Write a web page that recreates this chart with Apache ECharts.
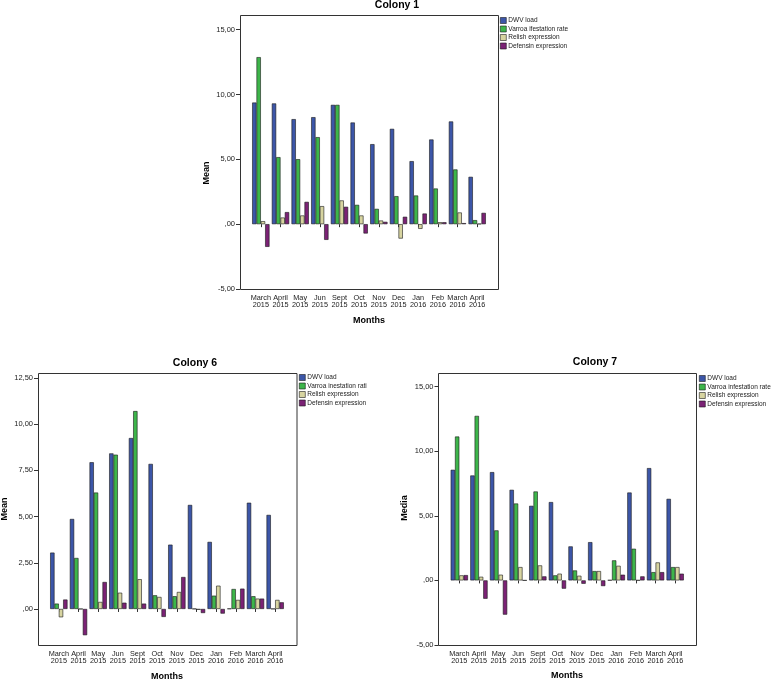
<!DOCTYPE html>
<html>
<head>
<meta charset="utf-8">
<script src="https://cdn.jsdelivr.net/npm/echarts@6/dist/echarts.min.js"></script>
<style>
  html, body { margin: 0; padding: 0; background: #fff; }
  #chart { width: 778px; height: 682px; }
</style>
</head>
<body>
<div id="chart"></div>
<script>
// ---------- data ----------
var categories = ['March\n2015','April\n2015','May\n2015','Jun\n2015','Sept\n2015','Oct\n2015',
                  'Nov\n2015','Dec\n2015','Jan\n2016','Feb\n2016','March\n2016','April\n2016'];

var seriesNames1 = ['DWV load', 'Varroa ifestation rate', 'Relish expression', 'Defensin expression'];
var seriesNames6 = ['DWV load', 'Varroa inestation rati', 'Relish expression', 'Defensin expression'];
var seriesNames7 = ['DWV load', 'Varroa infestation rate', 'Relish expression', 'Defensin expression'];

var c1_dwv      = [9.38, 9.31, 8.10, 8.25, 9.20, 7.84, 6.17, 7.35, 4.86, 6.53, 7.92, 3.65];
var c1_varroa   = [12.88, 5.17, 5.01, 6.71, 9.20, 1.49, 1.18, 2.16, 2.21, 2.75, 4.22, 0.31];
var c1_relish   = [0.23, 0.51, 0.67, 1.39, 1.83, 0.67, 0.28, -1.11, -0.36, 0.15, 0.90, 0.03];
var c1_defensin = [-1.75, 0.93, 1.72, -1.21, 1.34, -0.72, 0.18, 0.57, 0.82, 0.15, 0.08, 0.87];

var c6_dwv      = [3.05, 4.87, 7.94, 8.42, 9.25, 7.85, 3.48, 5.63, 3.63, 0.02, 5.75, 5.09];
var c6_varroa   = [0.29, 2.76, 6.30, 8.35, 10.71, 0.74, 0.69, 0.01, 0.72, 1.08, 0.69, 0.01];
var c6_relish   = [-0.45, 0.00, 0.38, 0.88, 1.61, 0.65, 0.92, -0.04, 1.26, 0.49, 0.56, 0.49];
var c6_defensin = [0.51, -1.42, 1.46, 0.34, 0.29, -0.43, 1.73, -0.22, -0.25, 1.10, 0.56, 0.36];

var c7_dwv      = [8.56, 8.12, 8.38, 7.01, 5.77, 6.06, 2.63, 2.96, 0.02, 6.80, 8.69, 6.31];
var c7_varroa   = [11.13, 12.73, 3.87, 5.95, 6.88, 0.39, 0.77, 0.72, 1.55, 2.45, 0.64, 1.03];
var c7_relish   = [0.39, 0.28, 0.44, 1.03, 1.16, 0.52, 0.36, 0.72, 1.13, 0.01, 1.39, 1.03];
var c7_defensin = [0.41, -1.42, -2.65, 0.00, 0.31, -0.64, -0.26, -0.44, 0.44, 0.31, 0.64, 0.52];

var ticks1 = [-5, 0, 5, 10, 15];
var ticks6 = [0, 2.5, 5, 7.5, 10, 12.5];
var ticks7 = [-5, 0, 5, 10, 15];

var titles = ['Colony 1', 'Colony 6', 'Colony 7'];
var yNames = ['Mean', 'Mean', 'Media'];
var xName = 'Months';

// ---------- style ----------
var colors = ['#3C56A8', '#3DB54A', '#D7D4A0', '#7B2275'];
var FONT = 'Liberation Sans, Arial, sans-serif';

function fmt(v) {
  var s = Math.abs(v).toFixed(2).replace('.', ',');
  if (s.charAt(0) === '0') s = s.slice(1);
  return (v < 0 ? '-' : '') + s;
}

// panel layout: frame box + bar grid
var panels = [
  { frame: {x: 240, y: 15, w: 258, h: 274},  grid: {left: 251, top: 15, width: 236, height: 274},
    min: -5, max: 16.13, ticks: ticks1, names: seriesNames1,
    data: [c1_dwv, c1_varroa, c1_relish, c1_defensin],
    title: {x: 397, y: 5}, yname: {x: 207, y: 173}, xname: {x: 369, y: 321},
    legend: {left: 500, top: 17} },
  { frame: {x: 38, y: 373, w: 258.5, h: 272}, grid: {left: 49, top: 373, width: 236, height: 272},
    min: -1.95, max: 12.77, ticks: ticks6, names: seriesNames6,
    data: [c6_dwv, c6_varroa, c6_relish, c6_defensin],
    title: {x: 195, y: 363}, yname: {x: 5, y: 509}, xname: {x: 167, y: 677},
    legend: {left: 299, top: 374} },
  { frame: {x: 438, y: 373, w: 258, h: 272}, grid: {left: 449.5, top: 373, width: 235.5, height: 272},
    min: -5, max: 16.05, ticks: ticks7, names: seriesNames7,
    data: [c7_dwv, c7_varroa, c7_relish, c7_defensin],
    title: {x: 595, y: 362}, yname: {x: 404.5, y: 508}, xname: {x: 567, y: 676},
    legend: {left: 699, top: 375} }
];

var option = {
  animation: false,
  backgroundColor: '#ffffff',
  textStyle: { fontFamily: FONT },
  grid: [], xAxis: [], yAxis: [], series: [], legend: [], graphic: []
};

panels.forEach(function (p, i) {
  option.grid.push(Object.assign({ containLabel: false }, p.grid));
  option.xAxis.push({
    type: 'category', gridIndex: i, data: categories,
    axisLine: { show: false },
    axisTick: { show: true, alignWithLabel: true, length: 3, lineStyle: { color: '#333', width: 1 } },
    axisLabel: { fontSize: 7.3, lineHeight: 7, color: '#222', margin: 5, interval: 0, fontFamily: FONT },
    splitLine: { show: false }
  });
  option.yAxis.push({
    type: 'value', gridIndex: i, min: p.min, max: p.max, offset: 11,
    axisLine: { show: false },
    axisTick: { show: true, length: 4, customValues: p.ticks, lineStyle: { color: '#333', width: 1 } },
    axisLabel: { fontSize: 7.5, color: '#222', margin: 5, customValues: p.ticks, formatter: fmt, fontFamily: FONT },
    splitLine: { show: false }
  });
  p.names.forEach(function (n, k) {
    option.series.push({
      type: 'bar', name: n, xAxisIndex: i, yAxisIndex: i, data: p.data[k],
      barGap: '0%', barCategoryGap: '12%',
      itemStyle: { color: colors[k], borderColor: '#1a1a1a', borderWidth: 0.6 }
    });
  });
  option.legend.push({
    orient: 'vertical', left: p.legend.left, top: p.legend.top, padding: 0,
    data: p.names.map(function (n) { return { name: n, icon: 'rect' }; }),
    itemWidth: 6, itemHeight: 6, itemGap: 1.5,
    selectedMode: false,
    itemStyle: { borderColor: '#1a1a1a', borderWidth: 0.6 },
    textStyle: { fontSize: 6.5, lineHeight: 6.5, color: '#222', fontFamily: FONT, padding: [0, 0, 0, -3] }
  });
  // frame
  option.graphic.push({
    type: 'rect', silent: true, z: 100,
    shape: { x: p.frame.x + 0.5, y: p.frame.y + 0.5, width: p.frame.w, height: p.frame.h },
    style: { fill: 'none', stroke: '#333', lineWidth: 1 }
  });
  option.graphic.push({
    type: 'text', silent: true, x: p.title.x, y: p.title.y,
    style: { text: titles[i], fontSize: 10.5, fontWeight: 'bold', fontFamily: FONT, fill: '#000',
             align: 'center', verticalAlign: 'middle' }
  });
  option.graphic.push({
    type: 'text', silent: true, x: p.xname.x, y: p.xname.y,
    style: { text: xName, fontSize: 9, fontWeight: 'bold', fontFamily: FONT, fill: '#000',
             align: 'center', verticalAlign: 'middle' }
  });
  option.graphic.push({
    type: 'text', silent: true, x: p.yname.x, y: p.yname.y, rotation: Math.PI / 2,
    style: { text: yNames[i], fontSize: 9, fontWeight: 'bold', fontFamily: FONT, fill: '#000',
             align: 'center', verticalAlign: 'middle' }
  });
});

var chart = echarts.init(document.getElementById('chart'), null, { renderer: 'canvas' });
chart.setOption(option);
</script>
</body>
</html>
